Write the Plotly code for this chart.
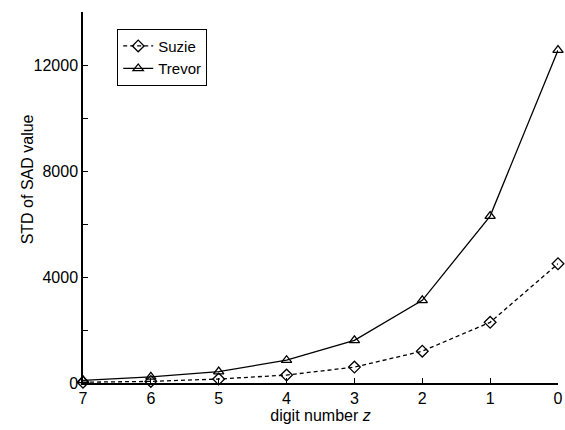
import plotly.graph_objects as go

digits = [7, 6, 5, 4, 3, 2, 1, 0]
suzie = [30, 60, 150, 300, 600, 1200, 2290, 4500]
trevor = [100, 230, 430, 860, 1610, 3120, 6300, 12560]
y_ticks = [0, 4000, 8000, 12000]

fig = go.Figure()
fig.add_trace(go.Scatter(
    x=digits, y=suzie, name="Suzie", mode="lines+markers",
    line=dict(color="black", width=1.3, dash="4px,3px"),
    marker=dict(symbol="diamond-open", size=9, color="black", line=dict(width=1.3)),
    cliponaxis=False,
))
fig.add_trace(go.Scatter(
    x=digits, y=trevor, name="Trevor", mode="lines+markers",
    line=dict(color="black", width=1.3),
    marker=dict(symbol="triangle-up-open", size=9, color="black", line=dict(width=1.3)),
    cliponaxis=False,
))

font = dict(family="Liberation Sans, Arial, sans-serif", size=16, color="black")
fig.update_layout(
    width=565, height=430,
    margin=dict(l=83, r=2, t=12, b=47),
    paper_bgcolor="white", plot_bgcolor="white",
    font=font,
    showlegend=True,
    legend=dict(
        x=0.072, y=0.955, xanchor="left", yanchor="top",
        bordercolor="black", borderwidth=1, bgcolor="white",
        font=dict(family="Liberation Sans, Arial, sans-serif", size=15, color="black"),
        tracegroupgap=0, itemwidth=30,
    ),
    xaxis=dict(
        range=[7, 0], tickvals=digits, ticktext=[str(d) for d in digits],
        showgrid=False, zeroline=False, showline=True, linecolor="black", linewidth=1.5,
        ticks="inside", ticklen=5, tickcolor="black", ticklabeloverflow="allow",
        title=dict(text="digit number <i>z</i>", standoff=3, font=font),
    ),
    yaxis=dict(
        range=[0, 14000], tickvals=y_ticks, ticktext=[str(v) for v in y_ticks],
        showgrid=False, zeroline=False, showline=True, linecolor="black", linewidth=1.5,
        ticks="inside", ticklen=5, tickcolor="black",
        minor=dict(tickvals=[2000, 6000, 10000, 14000], ticks="inside", ticklen=5, tickcolor="black"),
    ),
    annotations=[dict(
        text="STD of SAD value", textangle=-90, showarrow=False,
        xref="paper", yref="paper", x=-0.115, y=0.55,
        xanchor="center", yanchor="middle", font=font,
    )],
)

fig.write_html("out.html")
